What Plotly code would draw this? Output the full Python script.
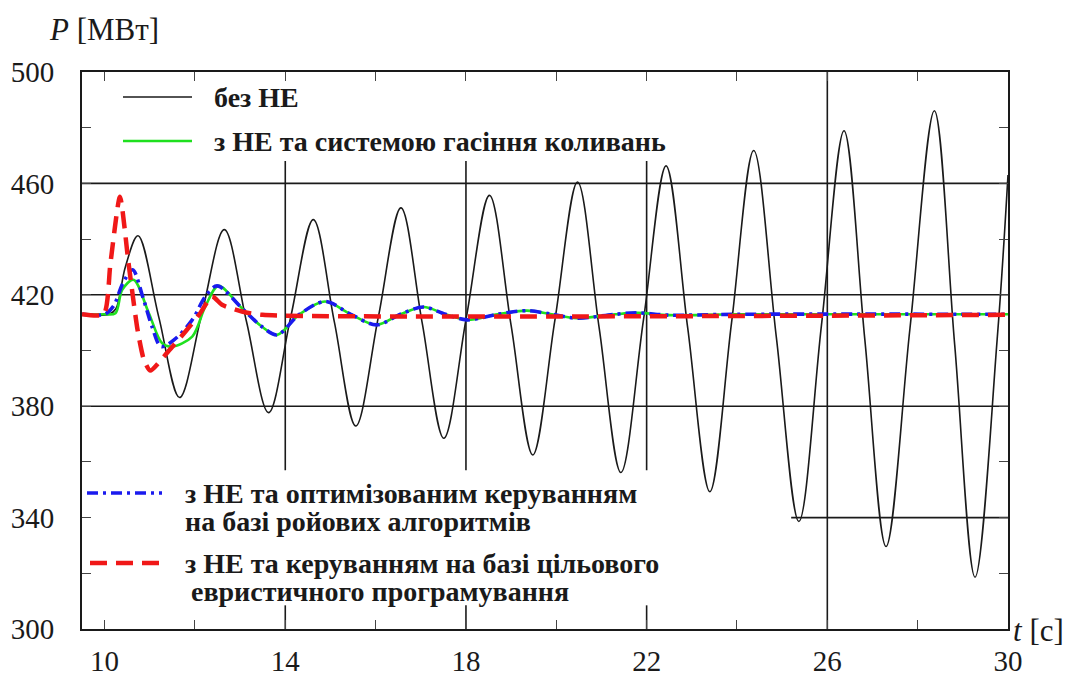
import plotly.graph_objects as go

# Axis limits
T_RANGE = [9.5, 30]
P_RANGE = [300, 500]
T_TICKS = [10, 14, 18, 22, 26, 30]
P_TICKS = [300, 340, 380, 420, 460, 500]

# без НЕ: growing power swing (extremes and crossings)
t_base = [9.5, 10.1, 10.25, 10.46, 10.74, 11.20, 11.66, 12.15, 12.65, 13.14,
          13.63, 14.12, 14.62, 15.09, 15.56, 16.06, 16.56, 17.03, 17.51, 18.01,
          18.52, 19.00, 19.48, 19.97, 20.47, 20.95, 21.43, 21.93, 22.43, 22.91,
          23.40, 23.88, 24.37, 24.87, 25.37, 25.87, 26.37, 26.83, 27.30, 27.83,
          28.37, 28.82, 29.27, 29.76, 30.0]
p_base = [413, 413, 415, 430, 441.2, 412, 383.1, 413, 443.4, 410.5,
          377.7, 412, 447.0, 410, 372.9, 412, 451.2, 410, 368.5, 412,
          455.7, 409, 362.5, 411, 460.5, 408, 356.2, 411, 466.3, 408,
          349.3, 410, 471.8, 405, 338.6, 409, 478.9, 404, 329.6, 408,
          486.1, 402, 318.6, 404, 463]

# з НЕ та системою гасіння коливань
t_green = [9.5, 10.0, 10.24, 10.39, 10.64, 10.98, 11.27, 11.49, 11.94, 12.23,
           12.52, 13.04, 13.48, 13.82, 14.3, 14.88, 15.45, 16.02, 16.55, 17.06,
           17.55, 18.02, 18.7, 19.35, 19.9, 20.45, 21.3, 21.8, 22.5, 24.0, 30.0]
p_green = [413, 413, 413.4, 421.8, 425.4, 413.4, 402.7, 401.4, 405, 415.8,
           423.2, 415.2, 408.6, 405.6, 412.8, 417.6, 413, 409.2, 413, 415.6,
           413, 411, 413, 414.3, 413, 411.6, 413, 413.5, 412.7, 413, 413]

# з НЕ та оптимізованим керуванням на базі ройових алгоритмів
t_blue = [9.5, 10.0, 10.2, 10.4, 10.62, 10.85, 11.05, 11.25, 11.55, 11.94,
          12.23, 12.49, 13.04, 13.48, 13.82, 14.3, 14.88, 15.45, 16.02, 16.55,
          17.06, 17.55, 18.02, 18.7, 19.35, 19.9, 20.45, 21.3, 21.8, 22.5,
          24.0, 30.0]
p_blue = [413, 413, 416, 424, 429, 419, 408.6, 401.4, 404, 411,
          419.4, 423.2, 415.2, 408.6, 405.6, 412.8, 417.6, 413, 409.2, 413,
          415.6, 413, 411, 413, 414.3, 413, 411.6, 413, 413.5, 412.7,
          413, 413]

# з НЕ та керуванням на базі цільового евристичного програмування
t_red = [9.5, 9.98, 10.13, 10.34, 10.53, 10.73, 10.87, 11.01, 11.4, 11.8,
         12.1, 12.38, 12.6, 13.04, 13.5, 30.0]
p_red = [413, 413, 431.4, 455.2, 431.4, 407.4, 396.7, 392.8, 399.5, 407,
         413, 419.4, 416.4, 414, 412.8, 412.8]

LEGEND_TOP = ["без НЕ", "з НЕ та системою гасіння коливань"]
LEGEND_BOTTOM = ["з НЕ та оптимізованим керуванням", "на базі ройових алгоритмів",
                 "з НЕ та керуванням на базі цільового", "евристичного програмування"]

INK = "#1a1a1a"
GREEN = "#1fe01f"
BLUE = "#1a1aee"
RED = "#f01818"
SERIF = "Liberation Serif"

# plot-area pixel box, used to place the in-plot key
L, R, T, B = 82, 1008, 72, 629
W, H = 1072, 677


def px(x):
    return (x - L) / (R - L)


def py(y):
    return (B - y) / (B - T)


fig = go.Figure()
fig.add_trace(go.Scatter(x=t_base, y=p_base, mode="lines",
                         line=dict(color=INK, width=1.6, shape="spline", smoothing=1.0)))
fig.add_trace(go.Scatter(x=t_green, y=p_green, mode="lines",
                         line=dict(color=GREEN, width=2.6, shape="spline", smoothing=0.9)))
fig.add_trace(go.Scatter(x=t_blue, y=p_blue, mode="lines",
                         line=dict(color=BLUE, width=3.6, shape="spline", smoothing=0.9,
                                   dash="11px,5px,3px,5px")))
fig.add_trace(go.Scatter(x=t_red, y=p_red, mode="lines",
                         line=dict(color=RED, width=4.5, shape="spline", smoothing=0.6,
                                   dash="17px,9px")))

# partial grid lines
grid = dict(color=INK, width=1.6)
shapes = []
for yv in (460, 420, 380):
    shapes.append(dict(type="line", xref="x", yref="y", x0=T_RANGE[0], x1=T_RANGE[1],
                       y0=yv, y1=yv, line=grid, layer="below"))
shapes.append(dict(type="line", xref="x", yref="y", x0=25.2, x1=T_RANGE[1],
                   y0=340, y1=340, line=grid, layer="below"))
for xv in (14, 18, 22):
    shapes.append(dict(type="line", xref="x", yref="y", x0=xv, x1=xv,
                       y0=357, y1=468, line=grid, layer="below"))
    shapes.append(dict(type="line", xref="x", yref="y", x0=xv, x1=xv,
                       y0=P_RANGE[0], y1=308.5, line=grid, layer="below"))
shapes.append(dict(type="line", xref="x", yref="y", x0=26, x1=26,
                   y0=P_RANGE[0], y1=P_RANGE[1], line=grid, layer="below"))

# key samples
samples = [
    (123, 192, 97, dict(color=INK, width=1.6)),
    (123, 192, 141, dict(color=GREEN, width=2.6)),
    (87, 162, 493, dict(color=BLUE, width=3.6, dash="11px,5px,3px,5px")),
    (90, 162, 563, dict(color=RED, width=4.5, dash="17px,9px")),
]
for x0, x1, yy, ln in samples:
    shapes.append(dict(type="line", xref="paper", yref="paper", x0=px(x0), x1=px(x1),
                       y0=py(yy), y1=py(yy), line=ln))

annotations = []
key_pos = [(212, 97, LEGEND_TOP[0]), (212, 141, LEGEND_TOP[1]),
           (183, 493, LEGEND_BOTTOM[0]), (183, 521, LEGEND_BOTTOM[1]),
           (183, 563, LEGEND_BOTTOM[2]), (189, 591, LEGEND_BOTTOM[3])]
for xx, yy, txt in key_pos:
    annotations.append(dict(text="<b>" + txt + "</b>", xref="paper", yref="paper",
                            x=px(xx), y=py(yy), xanchor="left", yanchor="middle",
                            showarrow=False,
                            font=dict(family=SERIF, size=28, color=INK)))

annotations.append(dict(text="<i>P</i> [МВт]", xref="paper", yref="paper",
                        x=px(47), y=py(30), xanchor="left", yanchor="middle",
                        showarrow=False, font=dict(family=SERIF, size=31, color=INK)))
annotations.append(dict(text="<i>t</i> [c]", xref="paper", yref="paper",
                        x=px(1011), y=py(630), xanchor="left", yanchor="middle",
                        showarrow=False, font=dict(family=SERIF, size=31, color=INK)))

axis_common = dict(showgrid=False, zeroline=False, showline=True, linecolor=INK,
                   linewidth=2, mirror="ticks", ticks="inside", ticklen=9,
                   automargin=False,
                   tickfont=dict(family=SERIF, size=29, color=INK))

fig.update_layout(
    width=W, height=H, autosize=False,
    margin=dict(l=L, r=W - R, t=T, b=H - B, pad=0),
    paper_bgcolor="white", plot_bgcolor="white",
    showlegend=False,
    font=dict(family=SERIF, color=INK),
    shapes=shapes, annotations=annotations,
    xaxis=dict(range=T_RANGE, tickvals=T_TICKS, ticklabelstandoff=5,
               **axis_common),
    yaxis=dict(range=P_RANGE, tickvals=P_TICKS, ticklabelstandoff=20,
               **axis_common),
)
fig.update_xaxes(minor=dict(dtick=2, tick0=10, ticks="inside", ticklen=9))
fig.update_yaxes(minor=dict(dtick=20, tick0=300, ticks="inside", ticklen=9))

fig.write_html("out.html")
